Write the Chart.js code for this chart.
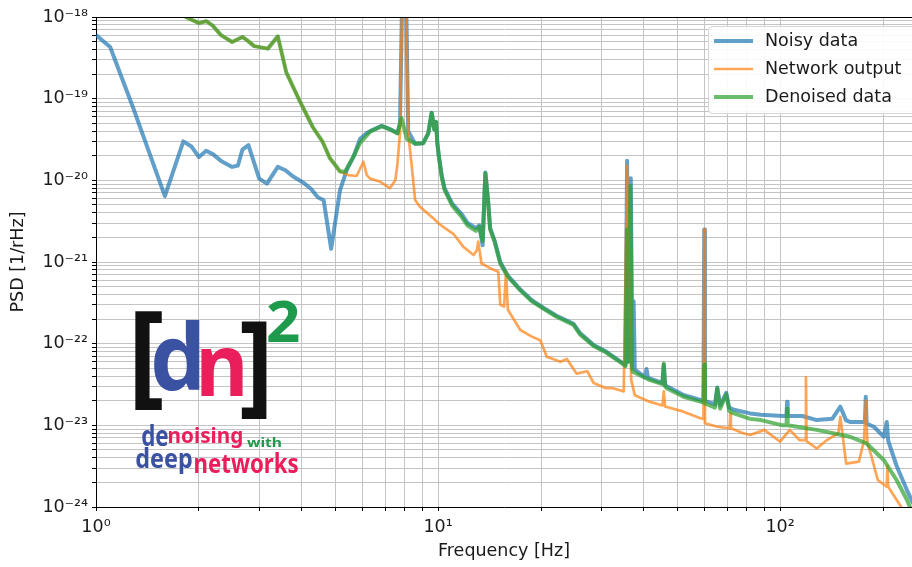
<!DOCTYPE html>
<html>
<head>
<meta charset="utf-8">
<script src="https://cdn.jsdelivr.net/npm/chart.js@4.4.1/dist/chart.umd.min.js"></script>
<style>
  html, body { margin: 0; padding: 0; background: #fff; }
  canvas { display: block; }
</style>
</head>
<body>
<canvas id="psdChart" width="912" height="567"></canvas>
<script>
// Noisy data (Hz / PSD)
const noisyFreq = [
  1.0, 1.1, 1.28, 1.59, 1.8, 1.9, 2.0, 2.1, 2.2, 2.32,
  2.5, 2.6, 2.68, 2.79, 3.0, 3.16, 3.4, 3.58, 3.76, 4.02,
  4.25, 4.45, 4.63, 4.87, 5.17, 5.41, 5.66, 5.91, 6.19, 6.33,
  6.84, 7.23, 7.61, 7.74, 7.87, 8.05, 8.18, 8.57, 9.05, 9.36,
  9.58, 9.75, 9.87, 9.95, 10.05, 10.25, 10.45, 11.0, 11.7, 12.2,
  12.9, 13.2, 13.5, 13.75, 14.0, 14.2, 14.65, 15.2, 16.0, 17.4,
  18.8, 20.3, 22.2, 24.9, 26.0, 28.5, 31.0, 34.0, 35.3, 35.7,
  36.0, 36.6, 37.0, 37.3, 37.6, 40.3, 40.7, 41.1, 45.3, 45.7,
  46.1, 52.2, 58.5, 59.7, 60.0, 60.3, 64.5, 65.5, 66.8, 69.6,
  71.0, 73.3, 81.7, 87.9, 101.8, 104.4, 104.8, 105.2, 116, 128,
  142, 150, 156, 160, 177, 178, 179, 188, 201, 205,
  207, 219, 235, 245
];
const noisyPsd = [
  6.0e-19, 4.3e-19, 8.0e-20, 6.4e-21, 3.0e-20, 2.6e-20, 1.93e-20, 2.3e-20, 2.08e-20, 1.73e-20,
  1.46e-20, 1.52e-20, 2.38e-20, 2.7e-20, 1.05e-20, 9.1e-21, 1.46e-20, 1.33e-20, 1.12e-20, 9.5e-21,
  7.9e-21, 6.2e-21, 5.7e-21, 1.45e-21, 7.6e-21, 1.34e-20, 1.95e-20, 3.2e-20, 3.8e-20, 4.0e-20,
  4.65e-20, 4.25e-20, 3.8e-20, 5.0e-20, 3e-18, 3e-18, 4.0e-20, 2.8e-20, 2.85e-20, 3.76e-20,
  6.7e-20, 4.2e-20, 5.2e-20, 2.9e-20, 2.0e-20, 1.15e-20, 8.0e-21, 5.2e-21, 3.9e-21, 3.0e-21,
  2.6e-21, 2.8e-21, 1.6e-21, 1.25e-20, 5.7e-21, 2.6e-21, 1.8e-21, 1.0e-21, 6.8e-22, 4.6e-22,
  3.4e-22, 2.75e-22, 2.2e-22, 1.75e-22, 1.35e-22, 9.6e-23, 8.0e-23, 6.1e-23, 5.5e-23, 1.74e-20,
  6.0e-23, 1.06e-20, 5.0e-23, 3.3e-22, 4.8e-23, 3.9e-23, 4.9e-23, 3.8e-23, 3.3e-23, 5.5e-23,
  3.1e-23, 2.35e-23, 2.05e-23, 2.0e-23, 2.5e-21, 2.0e-23, 1.8e-23, 2.9e-23, 1.75e-23, 2.5e-23,
  1.65e-23, 1.55e-23, 1.4e-23, 1.35e-23, 1.3e-23, 1.3e-23, 1.95e-23, 1.3e-23, 1.3e-23, 1.16e-23,
  1.2e-23, 1.69e-23, 1.15e-23, 1.1e-23, 1.1e-23, 2.24e-23, 1.05e-23, 9.6e-24, 7.25e-24, 1.1e-23,
  6.5e-24, 3.2e-24, 1.6e-24, 1.1e-24
];

// Network output
const networkFreq = [
  1.6, 1.83, 2.0, 2.1, 2.19, 2.32, 2.5, 2.68, 2.78, 2.9,
  3.18, 3.4, 3.6, 3.93, 4.3, 4.6, 4.83, 5.03, 5.17, 5.35,
  5.46, 5.78, 6.05, 6.19, 6.33, 6.78, 7.23, 7.5, 7.61, 7.74,
  7.87, 8.05, 8.18, 8.4, 8.57, 8.85, 9.7, 10.1, 11.1, 11.85,
  12.7, 13.0, 13.1, 13.4, 14.2, 15.0, 15.2, 15.6, 15.8, 16.0,
  17.4, 18.8, 19.9, 20.8, 22.8, 23.8, 25.4, 27.3, 28.5, 31.0,
  32.5, 34.9, 35.7, 36.7, 37.6, 41.5, 45.3, 45.7, 46.1, 52.2,
  58.5, 59.7, 60.0, 60.3, 65.5, 71.2, 71.5, 71.8, 78, 81.7,
  90, 100, 106.7, 114, 118.5, 119, 119.5, 128, 137, 148,
  150, 156, 170, 176, 178, 180, 184, 193, 205, 206,
  207, 226, 240
];
const networkPsd = [
  1.5e-18, 1.0e-18, 8.4e-19, 8.9e-19, 7.9e-19, 6.0e-19, 4.94e-19, 5.7e-19, 5.1e-19, 4.4e-19,
  4.1e-19, 5.8e-19, 2.1e-19, 9.6e-20, 4.5e-20, 2.95e-20, 1.86e-20, 1.5e-20, 1.28e-20, 1.2e-20,
  1.16e-20, 1.13e-20, 1.69e-20, 1.16e-20, 1.05e-20, 9.6e-21, 8.0e-21, 1.0e-20, 1.6e-20, 3.8e-20,
  3e-18, 3e-18, 3.8e-20, 1.34e-20, 5.74e-21, 4.75e-21, 3.4e-21, 2.9e-21, 2.2e-21, 1.54e-21,
  1.22e-21, 1.4e-21, 1.78e-21, 9.6e-22, 8.4e-22, 7.6e-22, 3.0e-22, 2.85e-22, 7.6e-22, 2.6e-22,
  1.47e-22, 1.22e-22, 1.1e-22, 6.9e-23, 6.0e-23, 6.5e-23, 4.3e-23, 4.6e-23, 3.3e-23, 2.85e-23,
  2.85e-23, 2.6e-23, 1.5e-20, 3.6e-23, 2.34e-23, 1.95e-23, 1.75e-23, 2.6e-23, 1.7e-23, 1.47e-23,
  1.22e-23, 1.2e-23, 2.5e-21, 1.06e-23, 9.6e-24, 9.2e-24, 1.4e-23, 9.2e-24, 8.0e-24, 7.6e-24,
  8.8e-24, 6.3e-24, 8.8e-24, 6.6e-24, 6.6e-24, 3.9e-23, 6.4e-24, 5.2e-24, 6.6e-24, 8.0e-24,
  1.27e-23, 3.4e-24, 3.6e-24, 6.6e-24, 2.0e-23, 6.0e-24, 4.5e-24, 2.14e-24, 1.77e-24, 3.2e-24,
  1.77e-24, 1.0e-24, 6.0e-25
];

// Denoised data
const denoisedFreq = [
  1.6, 1.83, 2.0, 2.1, 2.19, 2.32, 2.5, 2.68, 2.78, 2.9,
  3.18, 3.4, 3.6, 3.93, 4.3, 4.6, 4.83, 5.03, 5.17, 5.35,
  5.66, 5.91, 6.33, 6.84, 7.23, 7.61, 7.82, 8.0, 8.12, 8.57,
  9.05, 9.36, 9.58, 9.75, 9.87, 9.95, 10.05, 10.25, 10.45, 11.0,
  11.7, 12.2, 12.9, 13.2, 13.5, 13.75, 14.0, 14.2, 14.65, 15.2,
  16.0, 17.4, 18.8, 20.3, 22.2, 24.9, 26.0, 28.5, 31.0, 34.0,
  35.3, 35.7, 36.0, 36.5, 36.9, 37.2, 41.5, 45.3, 45.7, 46.1,
  46.6, 52.2, 58.5, 59.7, 60.0, 60.3, 64.5, 65.5, 66.8, 69.6,
  71.0, 73.3, 81.7, 87.9, 101.8, 104.4, 104.8, 105.2, 128, 160,
  179, 201, 219, 235, 245
];
const denoisedPsd = [
  1.5e-18, 1.0e-18, 8.4e-19, 8.9e-19, 7.9e-19, 6.0e-19, 4.94e-19, 5.7e-19, 5.1e-19, 4.4e-19,
  4.1e-19, 5.8e-19, 2.1e-19, 9.6e-20, 4.5e-20, 2.95e-20, 1.86e-20, 1.5e-20, 1.28e-20, 1.28e-20,
  1.95e-20, 2.85e-20, 3.95e-20, 4.6e-20, 4.2e-20, 3.76e-20, 5.75e-20, 3.95e-20, 3.2e-20, 2.8e-20,
  2.85e-20, 3.76e-20, 6.7e-20, 4.2e-20, 5.2e-20, 2.85e-20, 2.0e-20, 1.1e-20, 7.6e-21, 4.9e-21,
  3.6e-21, 2.8e-21, 2.4e-21, 2.7e-21, 1.8e-21, 1.22e-20, 5.7e-21, 2.5e-21, 1.75e-21, 9.6e-22,
  6.6e-22, 4.5e-22, 3.3e-22, 2.7e-22, 2.14e-22, 1.7e-22, 1.3e-22, 9.4e-23, 7.8e-23, 6.0e-23,
  5.3e-23, 2.5e-21, 6.0e-23, 8.5e-21, 5.0e-23, 4.5e-23, 3.6e-23, 3.2e-23, 5.7e-23, 3.0e-23,
  2.85e-23, 2.24e-23, 1.95e-23, 1.9e-23, 5.5e-23, 1.85e-23, 1.65e-23, 2.85e-23, 1.6e-23, 2.4e-23,
  1.5e-23, 1.4e-23, 1.2e-23, 1.16e-23, 1.0e-23, 1.0e-23, 1.6e-23, 1.0e-23, 8.8e-24, 7.25e-24,
  6.0e-24, 3.76e-24, 2.14e-24, 1.22e-24, 8.0e-25
];

// axis ranges and tick positions
const xRange = [1, 243];
const yRange = [1e-24, 1e-18];
const xDecades = [1, 10, 100];
const yDecades = [1e-24, 1e-23, 1e-22, 1e-21, 1e-20, 1e-19, 1e-18];
const tickMultipliers = [1, 2, 3, 4, 5, 6, 7, 8, 9];

const FONT = '"DejaVu Sans", sans-serif';
const TEXT_COLOR = '#1a1a1a';
const SUP = {'-': '\u207B', '0': '\u2070', '1': '\u00B9', '2': '\u00B2', '3': '\u00B3',
  '4': '\u2074', '5': '\u2075', '6': '\u2076', '7': '\u2077', '8': '\u2078', '9': '\u2079'};

function logTicks(decades, range) {
  const out = [];
  decades.forEach(d => tickMultipliers.forEach(m => {
    const v = m * d;
    if (v >= range[0] * 0.999 && v <= range[1] * 1.001) out.push(v);
  }));
  return out;
}

// "10^n" labels on the decades only
function powLabel(v) {
  const e = Math.log10(v);
  if (Math.abs(e - Math.round(e)) > 1e-6) return '';
  return '10' + String(Math.round(e)).split('').map(c => SUP[c]).join('');
}

function toPoints(freq, psd) {
  return freq.map((f, i) => ({x: f, y: psd[i]}));
}

// draw text stretched into a box (used for the logo)
function fitText(ctx, text, font, color, x0, y0, x1, y1) {
  ctx.save();
  ctx.font = font;
  const m = ctx.measureText(text);
  const w = m.actualBoundingBoxLeft + m.actualBoundingBoxRight;
  const h = m.actualBoundingBoxAscent + m.actualBoundingBoxDescent;
  ctx.translate(x0, y0);
  ctx.scale((x1 - x0) / w, (y1 - y0) / h);
  ctx.fillStyle = color;
  ctx.textAlign = 'left';
  ctx.textBaseline = 'alphabetic';
  ctx.fillText(text, m.actualBoundingBoxLeft, m.actualBoundingBoxAscent);
  ctx.restore();
}

const LOGO_FONT = 'bold 60px "Noto Sans", sans-serif';
const logoParts = [
  ['[', '#111111', 135, 313, 163, 411],
  ['d', '#3b52a3', 153, 322, 200, 392],
  ['n', '#e91e5a', 201, 349, 243, 396],
  [']', '#111111', 241, 323, 267, 419],
  ['2', '#1f9a4c', 268, 301, 299, 342],
  ['de', '#3b52a3', 142, 424, 168, 446],
  ['noising', '#e91e5a', 169, 427, 242, 448],
  ['with', '#1f9a4c', 247, 437, 281, 447],
  ['deep', '#3b52a3', 136, 448, 192, 474],
  ['networks', '#e91e5a', 195, 452, 298, 473]
];

const decorPlugin = {
  id: 'decor',
  afterDraw(chart) {
    const ctx = chart.ctx;
    const a = chart.chartArea;

    // top spine
    ctx.save();
    ctx.strokeStyle = '#000';
    ctx.lineWidth = 1;
    ctx.beginPath();
    ctx.moveTo(a.left, a.top + 0.5);
    ctx.lineTo(a.right, a.top + 0.5);
    ctx.stroke();
    ctx.restore();

    // logo
    logoParts.forEach(p => fitText(ctx, p[0], LOGO_FONT, p[1], p[2], p[3], p[4], p[5]));

    // legend box
    ctx.save();
    const lx = 708.5, ly = 26.5, lw = 215, lh = 87, r = 4;
    ctx.beginPath();
    ctx.moveTo(lx + r, ly);
    ctx.lineTo(lx + lw - r, ly);
    ctx.arcTo(lx + lw, ly, lx + lw, ly + r, r);
    ctx.lineTo(lx + lw, ly + lh - r);
    ctx.arcTo(lx + lw, ly + lh, lx + lw - r, ly + lh, r);
    ctx.lineTo(lx + r, ly + lh);
    ctx.arcTo(lx, ly + lh, lx, ly + lh - r, r);
    ctx.lineTo(lx, ly + r);
    ctx.arcTo(lx, ly, lx + r, ly, r);
    ctx.closePath();
    ctx.fillStyle = 'rgba(255,255,255,0.9)';
    ctx.fill();
    ctx.strokeStyle = '#d6d6d6';
    ctx.lineWidth = 1;
    ctx.stroke();

    const rows = [41, 69, 97];
    ctx.font = '17.5px ' + FONT;
    ctx.textBaseline = 'middle';
    ctx.textAlign = 'left';
    chart.data.datasets.forEach((ds, i) => {
      ctx.strokeStyle = ds.borderColor;
      ctx.lineWidth = ds.borderWidth;
      ctx.beginPath();
      ctx.moveTo(714, rows[i]);
      ctx.lineTo(753, rows[i]);
      ctx.stroke();
      ctx.fillStyle = TEXT_COLOR;
      ctx.fillText(ds.label, 765, rows[i]);
    });
    ctx.restore();
  }
};

const ctx = document.getElementById('psdChart').getContext('2d');
const psdChart = new Chart(ctx, {
  type: 'line',
  data: {
    datasets: [
      {
        label: 'Noisy data',
        data: toPoints(noisyFreq, noisyPsd),
        borderColor: 'rgba(31,119,180,0.7)',
        borderWidth: 4,
        order: 3
      },
      {
        label: 'Network output',
        data: toPoints(networkFreq, networkPsd),
        borderColor: 'rgba(255,127,14,0.7)',
        borderWidth: 2.7,
        order: 2
      },
      {
        label: 'Denoised data',
        data: toPoints(denoisedFreq, denoisedPsd),
        borderColor: 'rgba(44,160,44,0.7)',
        borderWidth: 4,
        order: 1
      }
    ]
  },
  options: {
    responsive: false,
    animation: false,
    events: [],
    layout: { padding: { top: 17, right: 0, bottom: 0, left: 0 } },
    elements: {
      point: { radius: 0 },
      line: { tension: 0, borderJoinStyle: 'round', fill: false }
    },
    datasets: { line: { clip: 0 } },
    plugins: {
      legend: { display: false },
      tooltip: { enabled: false }
    },
    scales: {
      x: {
        type: 'logarithmic',
        min: xRange[0],
        max: xRange[1],
        afterBuildTicks: s => { s.ticks = logTicks(xDecades, xRange).map(v => ({value: v})); },
        afterFit: s => { s.height = 60; },
        ticks: {
          autoSkip: false,
          maxRotation: 0,
          padding: 6,
          color: TEXT_COLOR,
          font: { family: FONT, size: 17.5 },
          callback: v => powLabel(v)
        },
        grid: { color: '#c4c4c4', lineWidth: 1, tickColor: '#000', tickLength: 4 },
        border: { color: '#000', width: 1 },
        title: {
          display: true,
          text: 'Frequency [Hz]',
          color: TEXT_COLOR,
          font: { family: FONT, size: 17.5 },
          padding: { top: 0, bottom: 5 }
        }
      },
      y: {
        type: 'logarithmic',
        min: yRange[0],
        max: yRange[1],
        afterBuildTicks: s => { s.ticks = logTicks(yDecades, yRange).map(v => ({value: v})); },
        afterFit: s => { s.width = 96; },
        ticks: {
          autoSkip: false,
          padding: 4,
          color: TEXT_COLOR,
          font: { family: FONT, size: 17.5 },
          callback: v => powLabel(v)
        },
        grid: { color: '#c4c4c4', lineWidth: 1, tickColor: '#000', tickLength: 4 },
        border: { color: '#000', width: 1 },
        title: {
          display: true,
          text: 'PSD [1/rHz]',
          color: TEXT_COLOR,
          font: { family: FONT, size: 17.5 },
          padding: { top: 8, bottom: 0 }
        }
      }
    }
  },
  plugins: [decorPlugin]
});
</script>
</body>
</html>
